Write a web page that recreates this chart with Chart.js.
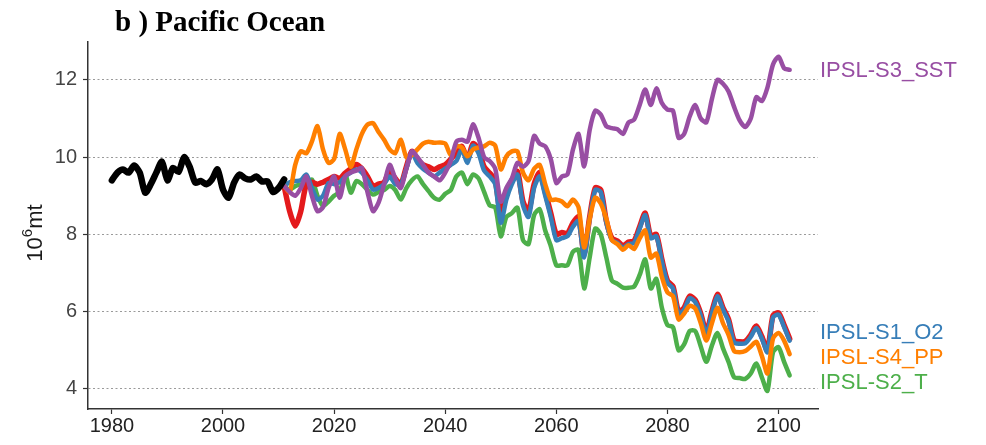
<!DOCTYPE html>
<html>
<head>
<meta charset="utf-8">
<script src="https://cdn.jsdelivr.net/npm/chart.js@4/dist/chart.umd.min.js"></script>
<style>
  html, body { margin: 0; padding: 0; background: #ffffff; }
  #wrap { width: 986px; height: 445px; }
</style>
</head>
<body>
<div id="wrap"><canvas id="fig" width="986" height="445"></canvas></div>
<script>
// Pacific Ocean biomass, observed period and IPSL scenario runs (10^6 mt)
const title = 'b ) Pacific Ocean';
const yTitle = ['10', '6', 'mt'];   // base, superscript, unit
const xTicks = [1980, 2000, 2020, 2040, 2060, 2080, 2100];
const yTicks = [4, 6, 8, 10, 12];

const span = (a, b) => Array.from({ length: b - a + 1 }, (_, i) => a + i);
const histYears = span(1980, 2011);
const scenYears = span(2011, 2102);

const observed = [
  9.4, 9.6, 9.68, 9.6, 9.78, 9.6, 9.08, 9.3, 9.6, 9.88,
  9.4, 9.72, 9.62, 10.0, 9.75, 9.34, 9.38, 9.3, 9.42, 9.68,
  9.16, 8.95, 9.34, 9.55, 9.45, 9.42, 9.5, 9.37, 9.37, 9.1,
  9.2, 9.42
];

const ipslAll = [
  9.25, 8.6, 8.22, 8.6, 9.3, 9.35, 9.3, 9.35, 9.42, 9.5,
  9.45, 9.59, 9.7, 9.81, 9.7, 9.5, 9.25, 9.3, 9.35, 9.63,
  9.45, 9.3, 9.75, 10.15, 9.95, 9.8, 9.75, 9.68, 9.75, 9.8,
  9.95, 10.1, 10.28, 9.94, 10.35, 10.2, 9.75, 9.59, 9.4, 8.5,
  9.03, 9.4, 9.63, 8.85, 8.6, 9.3, 9.6, 9.1, 8.55, 8.0,
  8.05, 8.02, 8.3, 8.45, 7.5, 8.45, 9.2, 9.15, 8.35, 7.9,
  7.83, 7.7, 7.8, 7.83, 8.2, 8.55, 7.95, 8.0, 7.35, 6.8,
  6.65, 6.0, 6.1, 6.4, 6.3, 5.95, 5.47, 6.0, 6.45, 6.1,
  5.8, 5.25, 5.22, 5.23, 5.4, 5.63, 5.35, 5.0, 5.9, 5.97,
  5.65, 5.3
];

const ipslO2 = [
  9.25, 9.35, 9.38, 9.4, 9.55, 9.2, 8.9, 9.0, 9.33, 9.3,
  9.35, 9.5, 9.6, 9.68, 9.6, 9.4, 9.16, 9.2, 9.3, 9.5,
  9.3, 9.3, 9.7, 10.11, 9.85, 9.7, 9.6, 9.5, 9.6, 9.7,
  9.8, 9.9, 10.2, 9.85, 10.3, 10.1, 9.65, 9.5, 9.3, 8.3,
  8.9, 9.3, 9.55, 8.75, 8.45, 9.2, 9.5, 9.0, 8.45, 7.85,
  7.9, 7.95, 8.2, 8.35, 7.4, 8.4, 9.15, 9.1, 8.3, 7.85,
  7.78, 7.65, 7.75, 7.78, 8.15, 8.5, 7.9, 7.95, 7.3, 6.75,
  6.6, 5.95, 6.05, 6.35, 6.25, 5.9, 5.42, 5.95, 6.4, 6.05,
  5.75, 5.2, 5.17, 5.18, 5.35, 5.58, 5.3, 4.95, 5.85, 5.92,
  5.6, 5.25
];

const ipslPP = [
  9.25, 9.1, 9.8, 10.15, 10.1, 10.4, 10.8, 10.2, 9.85, 9.95,
  10.6, 10.2, 9.75, 10.2, 10.6, 10.84, 10.88, 10.65, 10.45, 10.2,
  10.1, 10.45, 10.0, 10.05, 10.2, 10.35, 10.4, 10.37, 10.38, 10.35,
  10.05, 10.28, 10.25, 10.02, 10.2, 10.25, 10.28, 10.37, 10.3, 9.68,
  10.02, 10.15, 10.15, 9.6, 9.4, 9.7, 9.8, 9.3, 8.9, 8.9,
  8.85, 8.73, 8.9, 8.7, 7.66, 8.4, 8.95, 8.8, 8.4, 7.85,
  7.75, 7.6, 7.72, 7.62, 7.9, 8.1, 7.4, 7.5, 6.9, 6.5,
  6.4, 5.8, 5.95, 6.15, 6.08, 5.7, 5.25, 5.7, 6.1, 5.7,
  5.4, 4.98, 4.95, 4.98, 5.1, 5.22, 4.85, 4.4, 5.3, 5.45,
  5.25, 4.9
];

const ipslT = [
  9.25, 9.16, 9.25, 9.29, 9.25, 9.42, 9.0, 8.73, 8.85, 9.0,
  9.1, 9.55, 9.08, 9.38, 9.3, 9.15, 9.03, 9.1, 9.15, 9.25,
  9.15, 8.9, 9.2, 9.4, 9.5, 9.3, 9.12, 8.95, 8.9, 9.05,
  9.15, 9.5, 9.6, 9.3, 9.55, 9.45, 9.1, 8.75, 8.7, 7.95,
  8.45, 8.55, 8.69, 7.85, 7.75, 8.5, 8.65, 8.1, 7.7, 7.2,
  7.2, 7.2, 7.55, 7.6, 6.6, 7.4, 8.15, 8.0, 7.4, 6.8,
  6.72, 6.62, 6.62, 6.65, 6.95, 7.35, 6.6, 6.85, 6.1, 5.65,
  5.6, 5.0, 5.15, 5.5, 5.5, 5.1, 4.7, 5.12, 5.45, 5.05,
  4.7, 4.3, 4.28, 4.26, 4.4, 4.66, 4.3, 3.95, 4.95, 5.08,
  4.7, 4.35
];

const ipslSST = [
  9.25, 9.1, 9.0, 9.2, 9.5, 9.0, 8.6, 8.7, 9.2, 9.5,
  8.95, 9.5, 9.6, 9.65, 9.72, 9.1, 8.6, 8.82, 9.3, 9.8,
  9.45, 9.2, 9.7, 10.15, 10.0, 9.8, 9.6, 9.5, 9.4, 9.6,
  9.9, 10.4, 10.45, 10.4, 10.85, 10.5, 10.0, 9.9, 9.7, 8.85,
  9.2, 9.45, 9.85, 9.75, 9.9, 10.55, 10.35, 10.28, 9.95, 9.33,
  9.5, 9.55, 10.2, 10.6, 9.76, 10.7, 11.2, 11.1, 10.8, 10.75,
  10.72, 10.6, 10.9, 10.97, 11.35, 11.75, 11.35, 11.78, 11.4, 11.23,
  11.2, 10.5, 10.6, 11.05, 11.35, 11.0, 10.9, 11.5, 12.0, 11.9,
  11.7, 11.3, 10.95, 10.78, 11.0, 11.55, 11.45, 11.8, 12.4, 12.6,
  12.3, 12.26
];

const pts = (xs, ys) => xs.map((x, i) => ({ x: x, y: ys[i] }));

// Listed top-most first: Chart.js paints the first dataset last.
const datasets = [
  { label: 'Observed', data: pts(histYears, observed), borderColor: '#000000', borderWidth: 6.5, tag: false },
  { label: 'IPSL-S3_SST', data: pts(scenYears, ipslSST), borderColor: '#984EA3', borderWidth: 4.5, tag: true },
  { label: 'IPSL-S4_PP', data: pts(scenYears, ipslPP), borderColor: '#FF7F00', borderWidth: 4.5, tag: true },
  { label: 'IPSL-S1_O2', data: pts(scenYears, ipslO2), borderColor: '#377EB8', borderWidth: 4.5, tag: true },
  { label: 'IPSL', data: pts(scenYears, ipslAll), borderColor: '#E41A1C', borderWidth: 5.5, tag: false },
  { label: 'IPSL-S2_T', data: pts(scenYears, ipslT), borderColor: '#4DAF4A', borderWidth: 4.5, tag: true }
];

// Text around the plot: heading, rotated axis title, run names at line ends
const decorations = {
  id: 'decorations',
  afterDraw(chart) {
    const ctx = chart.ctx;
    const area = chart.chartArea;
    const yScale = chart.scales.y;

    ctx.save();
    ctx.fillStyle = '#000000';
    ctx.font = 'bold 29px "Liberation Serif", "Times New Roman", serif';
    ctx.textBaseline = 'alphabetic';
    ctx.textAlign = 'left';
    ctx.fillText(title, 115, 31);
    ctx.restore();

    // axis title with a raised exponent
    ctx.save();
    ctx.translate(42, 233);
    ctx.rotate(-Math.PI / 2);
    ctx.fillStyle = '#1a1a1a';
    const big = '22px "Liberation Sans", Arial, sans-serif';
    const small = '15px "Liberation Sans", Arial, sans-serif';
    ctx.font = big; const w0 = ctx.measureText(yTitle[0]).width;
    ctx.font = small; const w1 = ctx.measureText(yTitle[1]).width;
    ctx.font = big; const w2 = ctx.measureText(yTitle[2]).width;
    let x = -(w0 + w1 + w2) / 2;
    ctx.textBaseline = 'alphabetic';
    ctx.font = big; ctx.fillText(yTitle[0], x, 0); x += w0;
    ctx.font = small; ctx.fillText(yTitle[1], x, -10); x += w1;
    ctx.font = big; ctx.fillText(yTitle[2], x, 0);
    ctx.restore();

    // run names, nudged apart so they do not overlap
    const items = [];
    chart.data.datasets.forEach(ds => {
      if (!ds.tag) return;
      const last = ds.data[ds.data.length - 1];
      items.push({ text: ds.label, color: ds.borderColor, y: yScale.getPixelForValue(last.y) });
    });
    items.sort((a, b) => a.y - b.y);
    const gap = 25;
    for (let k = 0; k < 60; k++) {
      for (let i = 1; i < items.length; i++) {
        const d = items[i].y - items[i - 1].y;
        if (d < gap) {
          const m = (gap - d) / 2;
          items[i - 1].y -= m;
          items[i].y += m;
        }
      }
    }
    ctx.save();
    ctx.font = '22px "Liberation Sans", Arial, sans-serif';
    ctx.textBaseline = 'middle';
    ctx.textAlign = 'left';
    items.forEach(it => {
      ctx.fillStyle = it.color;
      ctx.fillText(it.text, area.right + 2, it.y + 1);
    });
    ctx.restore();
  }
};

new Chart(document.getElementById('fig'), {
  type: 'line',
  data: { datasets: datasets },
  options: {
    responsive: false,
    animation: false,
    devicePixelRatio: 1,
    layout: { padding: { left: 0, right: 168, top: 42, bottom: 0 } },
    plugins: { legend: { display: false }, tooltip: { enabled: false }, title: { display: false } },
    elements: {
      point: { radius: 0, hoverRadius: 0 },
      line: { tension: 0.25, borderCapStyle: 'round', borderJoinStyle: 'round', fill: false }
    },
    scales: {
      x: {
        type: 'linear',
        min: 1975.7,
        max: 2107.1,
        afterBuildTicks: s => { s.ticks = xTicks.map(v => ({ value: v })); },
        afterFit: s => { s.height = 36; },
        grid: { drawOnChartArea: false, drawTicks: true, tickLength: 5, tickColor: '#333333', tickWidth: 1.2 },
        border: { display: true, color: '#333333', width: 1.5 },
        ticks: {
          color: '#222222',
          font: { family: '"Liberation Sans", Arial, sans-serif', size: 20 },
          padding: 0,
          maxRotation: 0,
          autoSkip: false,
          callback: v => String(v)
        }
      },
      y: {
        type: 'linear',
        min: 3.48,
        max: 12.98,
        afterBuildTicks: s => { s.ticks = yTicks.map(v => ({ value: v })); },
        afterFit: s => { s.width = 88; },
        grid: { color: '#9a9a9a', lineWidth: 1, drawTicks: true, tickLength: 5, tickColor: '#333333', tickWidth: 1.2, tickBorderDash: [] },
        border: { display: true, color: '#333333', width: 1.5, dash: [2, 2.5] },
        ticks: {
          color: '#444444',
          font: { family: '"Liberation Sans", Arial, sans-serif', size: 20 },
          padding: 6,
          callback: v => String(v)
        }
      }
    }
  },
  plugins: [decorations]
});
</script>
</body>
</html>
